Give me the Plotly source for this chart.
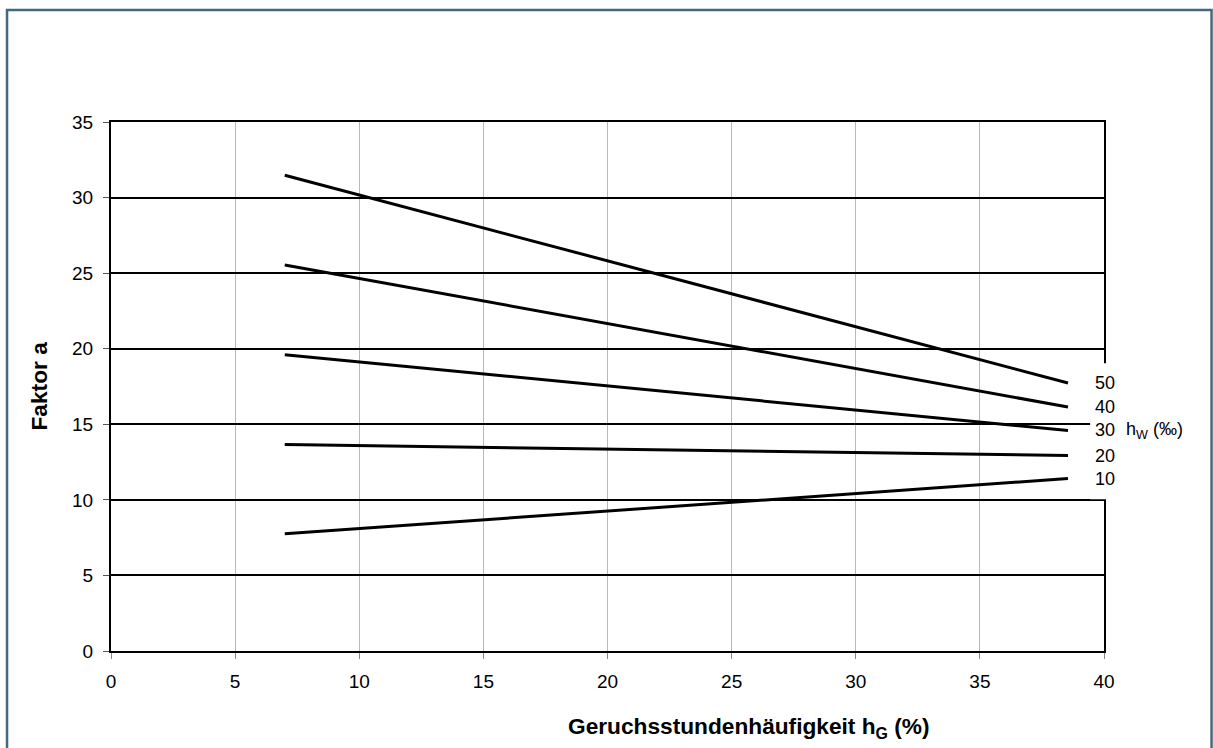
import plotly.graph_objects as go

# Data
x_start = 7.0
x_end = 38.55
hw_labels = ["50", "40", "30", "20", "10"]
a_start = [31.48, 25.54, 19.60, 13.66, 7.75]
a_end = [17.73, 16.14, 14.59, 12.93, 11.41]

x_ticks = [0, 5, 10, 15, 20, 25, 30, 35, 40]
y_ticks = [0, 5, 10, 15, 20, 25, 30, 35]

FONT = "Liberation Sans, Arial, sans-serif"

fig = go.Figure()
for lab, y0, y1 in zip(hw_labels, a_start, a_end):
    fig.add_trace(go.Scatter(
        x=[x_start, x_end], y=[y0, y1], mode="lines",
        line=dict(color="black", width=3), name=lab, showlegend=False,
        hoverinfo="skip"))

annotations = []
for lab, y1 in zip(hw_labels, a_end):
    annotations.append(dict(
        x=39.55, y=y1, xref="x", yref="y", text=lab, showarrow=False,
        xanchor="left", yanchor="middle",
        font=dict(family=FONT, size=18, color="black")))
annotations.append(dict(
    x=1.0201, y=a_end[2], xref="paper", yref="y", text="h<sub>W</sub> (‰)",
    showarrow=False, xanchor="left", yanchor="middle",
    font=dict(family=FONT, size=18, color="black")))
annotations.append(dict(
    x=0.458, y=-0.145, xref="paper", yref="paper",
    text="<b>Geruchsstundenhäufigkeit h<sub>G</sub> (%)</b>", showarrow=False,
    xanchor="left", yanchor="middle",
    font=dict(family=FONT, size=22.7, color="black")))
annotations.append(dict(
    x=-0.0735, y=0.5, xref="paper", yref="paper",
    text="<b>Faktor a</b>", showarrow=False, textangle=-90,
    xanchor="center", yanchor="middle",
    font=dict(family=FONT, size=22.7, color="black")))

fig.update_layout(
    width=1213, height=748,
    margin=dict(l=111, r=109, t=122, b=97),
    paper_bgcolor="white", plot_bgcolor="white",
    annotations=annotations,
    shapes=[
        dict(type="rect", xref="paper", yref="paper",
             x0=-0.1047, x1=1.1083, y0=-0.3, y1=1.2117,
             line=dict(color="#41697f", width=2.5), layer="below"),
        # white mask behind the series labels (interrupts the right frame line)
        dict(type="rect", xref="paper", yref="paper",
             x0=0.986, x1=1.015, y0=0.287, y1=0.544,
             line=dict(width=0), fillcolor="white", layer="above"),
    ],
)
fig.update_xaxes(
    range=[0, 40], tickvals=x_ticks, showgrid=True, gridcolor="#b8b8b8",
    gridwidth=1, zeroline=False, showline=True, linecolor="black",
    linewidth=2, mirror=True, ticks="outside", ticklen=6, tickcolor="#888",
    ticklabelstandoff=6,
    tickfont=dict(family=FONT, size=19, color="black"))
fig.update_yaxes(
    range=[0, 35], tickvals=y_ticks, showgrid=True, gridcolor="black",
    gridwidth=1.5, zeroline=False, showline=True, linecolor="black",
    linewidth=2, mirror=True, ticks="outside", ticklen=6, tickcolor="#555",
    ticklabelstandoff=6,
    tickfont=dict(family=FONT, size=19, color="black"))

fig.write_html("out.html",
               config={"displayModeBar": False},
               post_script="document.body.style.margin='0';"
                           "document.body.style.overflow='hidden';")
